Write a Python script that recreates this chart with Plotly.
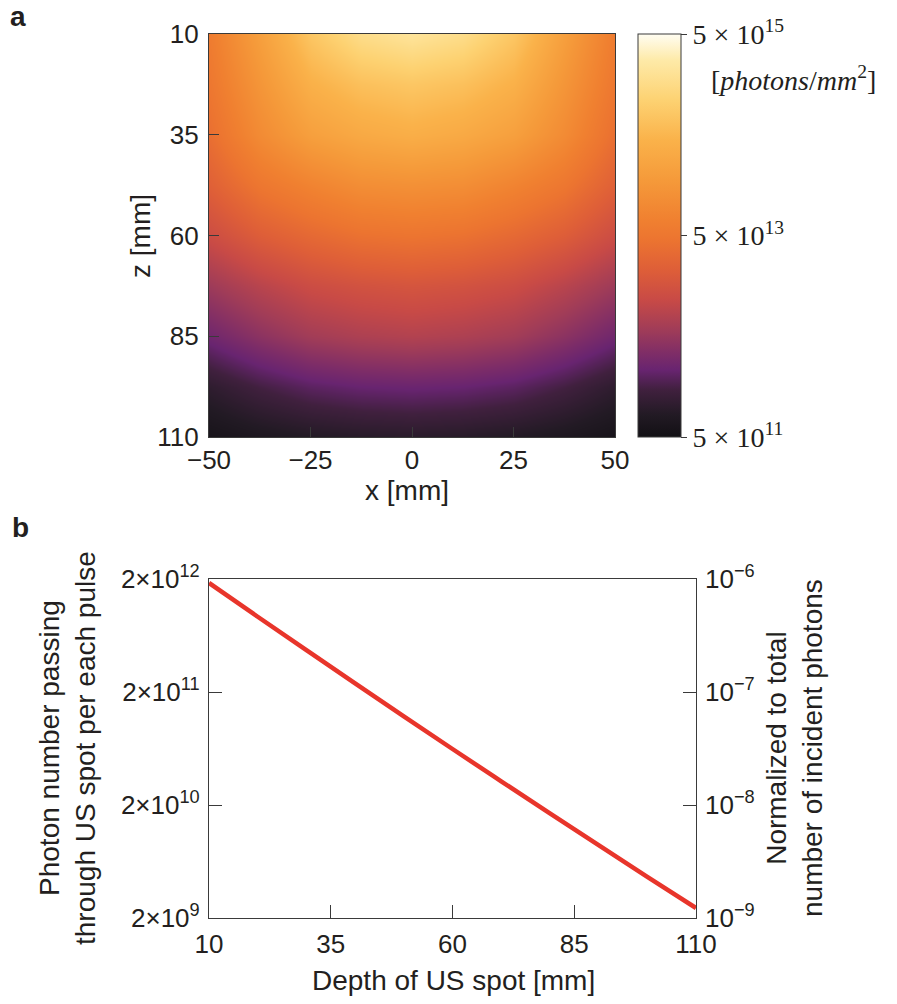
import plotly.graph_objects as go
import numpy as np

# ---------------- data ----------------
# Panel a: fluence map (log10 of photons/mm^2)
x_mm = [-50, -37.5, -25, -12.5, 0, 12.5, 25, 37.5, 50]
z_mm = [10, 22.5, 35, 47.5, 60, 72.5, 85, 97.5, 110]
log_fluence = [
    [13.78, 14.34, 14.90, 15.22, 15.34, 15.22, 14.90, 14.34, 13.78],
    [13.70, 14.18, 14.62, 14.82, 14.90, 14.82, 14.62, 14.18, 13.70],
    [13.58, 14.02, 14.34, 14.50, 14.58, 14.50, 14.34, 14.02, 13.58],
    [13.38, 13.70, 13.90, 14.06, 14.10, 14.06, 13.90, 13.70, 13.38],
    [13.10, 13.34, 13.50, 13.62, 13.66, 13.62, 13.50, 13.34, 13.10],
    [12.74, 12.94, 13.10, 13.18, 13.22, 13.18, 13.10, 12.94, 12.74],
    [12.42, 12.62, 12.78, 12.86, 12.90, 12.86, 12.78, 12.62, 12.42],
    [12.02, 12.18, 12.30, 12.36, 12.38, 12.36, 12.30, 12.18, 12.02],
    [11.78, 11.86, 11.92, 11.96, 11.98, 11.96, 11.92, 11.86, 11.78],
]
cbar_tickvals = [np.log10(5e11), np.log10(5e13), np.log10(5e15)]
cbar_ticktext = ["5 × 10<sup>11</sup>", "5 × 10<sup>13</sup>", "5 × 10<sup>15</sup>"]

# Panel b: photon number through US spot vs depth
depth_mm = [10, 20, 30, 40, 50, 60, 70, 80, 90, 100, 110]
photon_number = [1.845e12, 9.27e11, 4.69e11, 2.38e11, 1.219e11, 6.26e10,
                 3.24e10, 1.684e10, 8.81e9, 4.63e9, 2.45e9]
total_incident = 2e18
normalized = [p / total_incident for p in photon_number]

left_tickvals = [2e9, 2e10, 2e11, 2e12]
left_ticktext = ["2×10<sup>9</sup>", "2×10<sup>10</sup>", "2×10<sup>11</sup>", "2×10<sup>12</sup>"]
right_tickvals = [1e-9, 1e-8, 1e-7, 1e-6]
right_ticktext = ["10<sup>−9</sup>", "10<sup>−8</sup>", "10<sup>−7</sup>", "10<sup>−6</sup>"]

# colour scale sampled from the colour bar
colorscale = [
    [0.0, "#121014"], [0.055, "#221a24"], [0.117, "#40203e"], [0.166, "#682470"],
    [0.203, "#7c2c68"], [0.266, "#a03c58"], [0.340, "#c84a46"], [0.414, "#de5e38"],
    [0.489, "#ec7430"], [0.538, "#f08030"], [0.638, "#f59a3a"], [0.737, "#fab24a"],
    [0.836, "#fdd272"], [0.935, "#feeaa8"], [1.0, "#fffdf2"],
]

W, H = 897, 1004
def px(x):
    return x / W
def py(y):
    return 1 - y / H

FONT = "Liberation Sans, Arial, sans-serif"
SERIF = "Liberation Serif, Times New Roman, serif"
TXT = "#231f20"
AX = "#3a3a3a"
TICK = 26
TITLE = 28

fig = go.Figure()

fig.add_trace(go.Heatmap(
    x=x_mm, y=z_mm, z=log_fluence, zsmooth="best",
    colorscale=colorscale, zmin=np.log10(5e11), zmax=np.log10(5e15),
    xaxis="x", yaxis="y",
    colorbar=dict(
        x=px(638), xanchor="left", xpad=0, ypad=0,
        y=py(34), yanchor="top", lenmode="pixels", len=403,
        thickness=43, thicknessmode="pixels",
        outlinecolor=AX, outlinewidth=1,
        tickvals=cbar_tickvals, ticktext=cbar_ticktext,
        ticks="outside", ticklen=6, tickcolor=AX,
        tickfont=dict(family=SERIF, size=28, color=TXT),
    ),
))

fig.add_trace(go.Scatter(
    x=depth_mm, y=photon_number, mode="lines", line_shape="spline",
    line=dict(color="#e8352b", width=4.5),
    xaxis="x2", yaxis="y2", showlegend=False,
))
fig.add_trace(go.Scatter(
    x=depth_mm, y=normalized, mode="lines",
    line=dict(color="rgba(0,0,0,0)", width=0),
    xaxis="x2", yaxis="y3", showlegend=False, hoverinfo="skip",
))

axis_common = dict(showline=True, linecolor=AX, linewidth=1.2, mirror=True,
                   ticks="inside", tickcolor=AX, showgrid=False, zeroline=False,
                   tickfont=dict(family=FONT, size=TICK, color=TXT))

fig.update_layout(
    width=W, height=H, margin=dict(l=0, r=0, t=0, b=0, autoexpand=False),
    paper_bgcolor="white", plot_bgcolor="white", showlegend=False,
    xaxis=dict(domain=[px(209), px(615)], anchor="y", range=[-50, 50],
               tickvals=[-50, -25, 0, 25, 50], ticktext=["−50", "−25", "0", "25", "50"],
               ticklen=10, automargin=False, **axis_common),
    yaxis=dict(domain=[py(437), py(34)], anchor="x", range=[110, 10],
               tickvals=[10, 35, 60, 85, 110], ticklen=10, automargin=False,
               ticklabelstandoff=4, **axis_common),
    xaxis2=dict(domain=[px(209), px(696)], anchor="y2", range=[10, 110],
                tickvals=[10, 35, 60, 85, 110], ticklen=13, automargin=False,
                ticklabelstandoff=3, **axis_common),
    yaxis2=dict(domain=[py(918), py(579)], anchor="x2", type="log",
                range=[np.log10(2e9), np.log10(2e12)],
                tickvals=left_tickvals, ticktext=left_ticktext, ticklen=13,
                automargin=False, ticklabelstandoff=3, **axis_common),
    yaxis3=dict(overlaying="y2", anchor="x2", side="right", type="log",
                range=[-9, -6], tickvals=right_tickvals, ticktext=right_ticktext,
                showline=False, ticks="inside", ticklen=13, tickcolor=AX,
                showgrid=False, zeroline=False, automargin=False,
                ticklabelstandoff=8,
                tickfont=dict(family=FONT, size=TICK, color=TXT)),
)

ann = []
def add_text(text, x, y, size=TITLE, angle=0, family=FONT, xanchor="center", yanchor="middle", bold=False):
    ann.append(dict(text=f"<b>{text}</b>" if bold else text, x=px(x), y=py(y),
                    xref="paper", yref="paper", showarrow=False, textangle=angle,
                    xanchor=xanchor, yanchor=yanchor,
                    font=dict(family=family, size=size, color=TXT)))

add_text("a", 18, 17, size=28, bold=True)
add_text("b", 20, 527, size=28, bold=True)
add_text("z [mm]", 140, 236, angle=-90)
add_text("x [mm]", 407, 490)
add_text("[<i>photons</i>/<i>mm</i><sup>2</sup>]", 709, 78, size=28, family=SERIF, xanchor="left")
add_text("Photon number passing<br>through US spot per each pulse", 67, 748, angle=-90)
add_text("Normalized to total<br>number of incident photons", 794, 748, angle=-90)
add_text("Depth of US spot [mm]", 453, 980)
fig.update_layout(annotations=ann)

fig.write_html("out.html")
